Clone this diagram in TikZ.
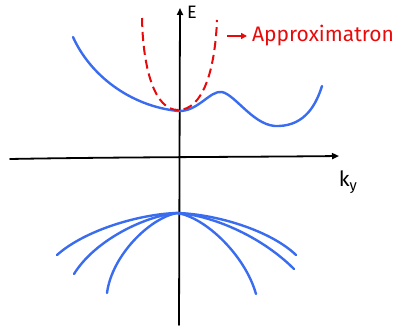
\documentclass[tikz,border=0pt]{standalone}
\usepackage{fontspec}
\setmainfont{Fira Sans}
\usetikzlibrary{arrows.meta}
\definecolor{bandblue}{RGB}{58,108,240}
\definecolor{approxred}{RGB}{232,10,10}
\tikzset{
  axisline/.style={line width=1.8pt, black, line cap=round, -{Triangle[length=7pt,width=6pt]}},
  band/.style={line width=2.4pt, bandblue, line cap=round},
  approx/.style={line width=2pt, approxred, dash pattern=on 9pt off 5pt},
  lbl/.style={inner sep=0pt, font=\fontsize{21pt}{21pt}\selectfont}
}
\begin{document}
\begin{tikzpicture}[x=1pt,y=-1pt]
\useasboundingbox (0,0) rectangle (396,328);
% axes
\coordinate (ybot) at (179,325);
\coordinate (ytop) at (180,8);
\coordinate (xleft) at (10,159);
\coordinate (xright) at (339,156);
\draw[axisline] (ybot) -- (ytop);
\draw[axisline] (xleft) .. controls (120,157) and (250,157) .. (xright);
\node[lbl, font=\fontsize{18pt}{18pt}\selectfont, anchor=south west] (E) at (187,19) {E};
\node[lbl, anchor=north] (ky) at (348,171) {k$_{\mathrm{y}}$};
% upper band
\coordinate (ua) at (73,37);
\coordinate (umin) at (178,111);
\coordinate (ubump) at (222,92);
\coordinate (umin2) at (279,126);
\coordinate (uend) at (322,86);
\draw[band] (ua) .. controls (90,75) and (130,106) .. (umin)
  .. controls (198,112) and (210,90) .. (ubump)
  .. controls (236,95) and (255,128) .. (umin2)
  .. controls (305,125) and (316,105) .. (uend);
% approximation
\coordinate (rl) at (142,18);
\coordinate (rv) at (178,110);
\coordinate (rr) at (217,20);
\draw[approx] (rl) .. controls (143,70) and (155,110) .. (rv)
  .. controls (203,110) and (215,70) .. (rr);
\coordinate (aa) at (227,36);
\coordinate (ab) at (247,36);
\draw[line width=2pt, approxred, -{Triangle[length=6pt,width=6pt]}] (aa) -- (ab);
\node[lbl, anchor=west, text=approxred] (ap) at (252,36) {Approximatron};
% lower bands
\coordinate (top) at (177,213);
\coordinate (l1) at (57,255);
\coordinate (l2) at (74,274);
\coordinate (l3) at (107,293);
\coordinate (r1) at (296,255);
\coordinate (r2) at (294,269);
\coordinate (r3) at (256,294);
\draw[band] (top) .. controls (140,214) and (85,230) .. (l1);
\draw[band] (top) .. controls (145,216) and (95,240) .. (l2);
\draw[band] (top) .. controls (150,218) and (112,255) .. (l3);
\draw[band] (top) .. controls (215,214) and (270,230) .. (r1);
\draw[band] (top) .. controls (210,215) and (260,235) .. (r2);
\draw[band] (top) .. controls (205,217) and (245,255) .. (r3);
\end{tikzpicture}
\end{document}
